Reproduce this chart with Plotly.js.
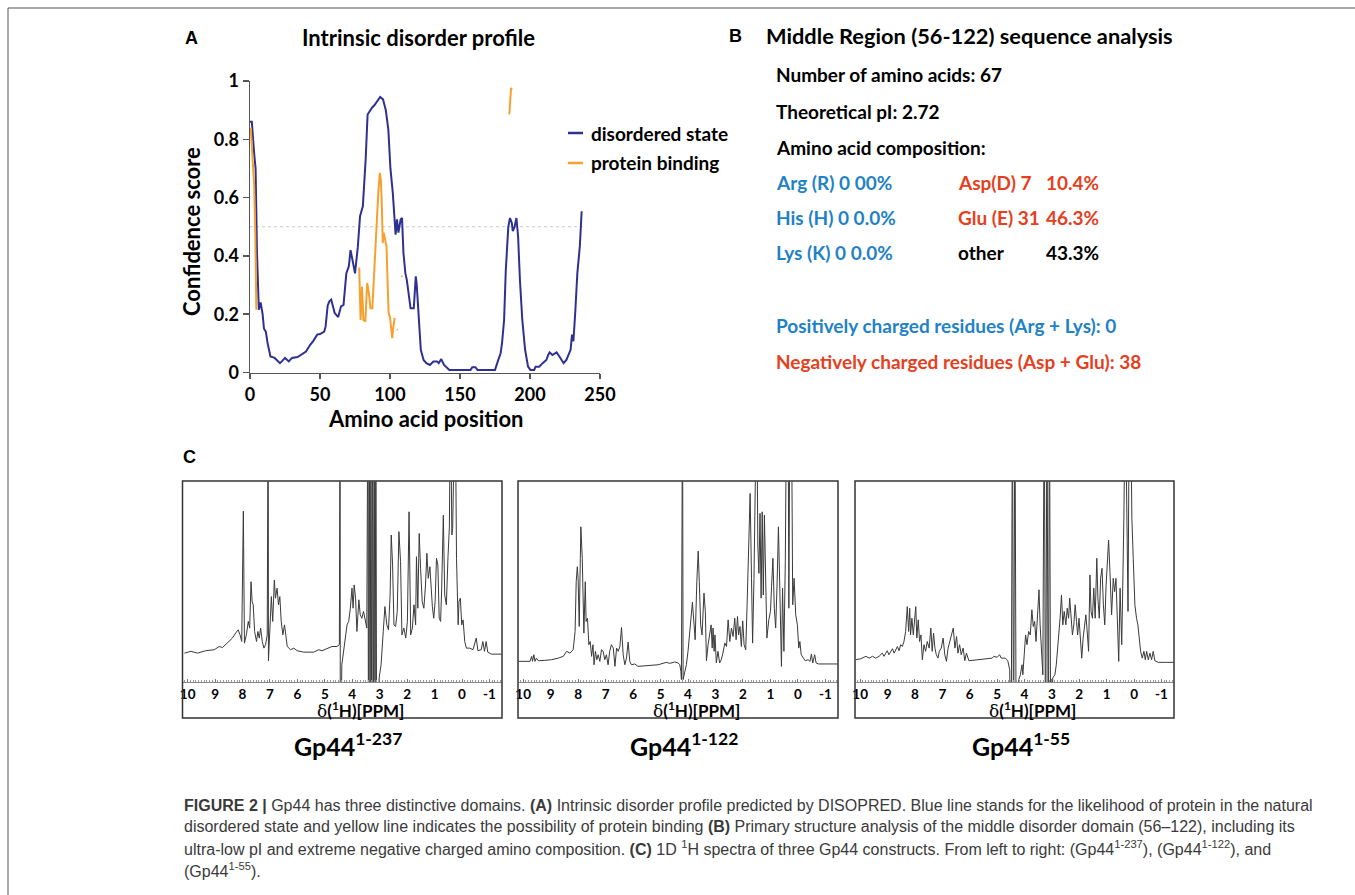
<!DOCTYPE html>
<html>
<head>
<meta charset="utf-8">
<script src="https://cdn.plot.ly/plotly-3.0.1.min.js"></script>
<style>
html,body{margin:0;padding:0;background:#fff;}
#chart{width:1355px;height:895px;}
</style>
</head>
<body>
<div id="chart"></div>
<script>
// ---------- Panel A : intrinsic disorder profile (DISOPRED) ----------
const disorderPos = [0, 1.3, 3, 4, 5, 6.3, 7.6, 9, 10, 11.3, 12.6, 14.6, 17.6, 20, 21.4, 22.7, 25, 27.7, 30, 34, 38, 40, 43, 45, 48, 50, 53, 54, 55.5, 56.7, 58, 59, 60.5, 63, 65, 66.8, 68.8, 70.6, 71.8, 73.6, 75, 77, 78.6, 80.6, 82.6, 84, 85.7, 87.4, 88.7, 90.7, 93, 95, 97, 98.8, 100.3, 102, 103.3, 104, 105, 106, 107.6, 108.6, 109.6, 111, 112, 113.4, 114.7, 117, 118.4, 119, 120.5, 122, 124, 126, 128.5, 131, 133.6, 134.8, 136.6, 138.6, 142.4, 146, 157.5, 158.8, 161, 162.5, 175, 177, 179, 180, 181.5, 182.7, 184.5, 185.7, 187, 187.7, 189, 190.3, 191.5, 192.8, 194.5, 196.5, 198.6, 200.3, 203, 204, 206.6, 209, 211.7, 213, 214, 216, 217.5, 219, 221, 223, 224, 226, 228, 229, 230, 231, 232.3, 233.8, 235.6, 236.9];
const disorderScore = [0.86, 0.86, 0.75, 0.70, 0.41, 0.215, 0.24, 0.20, 0.15, 0.14, 0.10, 0.055, 0.05, 0.038, 0.032, 0.038, 0.05, 0.038, 0.05, 0.053, 0.066, 0.072, 0.095, 0.107, 0.13, 0.132, 0.14, 0.158, 0.23, 0.244, 0.25, 0.227, 0.204, 0.19, 0.227, 0.232, 0.34, 0.364, 0.42, 0.376, 0.34, 0.43, 0.536, 0.57, 0.73, 0.885, 0.90, 0.91, 0.916, 0.93, 0.945, 0.937, 0.90, 0.834, 0.70, 0.616, 0.525, 0.473, 0.525, 0.48, 0.525, 0.53, 0.41, 0.34, 0.318, 0.26, 0.22, 0.22, 0.33, 0.307, 0.18, 0.078, 0.043, 0.032, 0.026, 0.038, 0.038, 0.032, 0.046, 0.026, 0.009, 0.009, 0.009, 0.018, 0.018, 0.009, 0.009, 0.038, 0.066, 0.10, 0.18, 0.35, 0.50, 0.53, 0.513, 0.485, 0.50, 0.53, 0.467, 0.318, 0.18, 0.078, 0.02, 0.009, 0.009, 0.02, 0.02, 0.032, 0.043, 0.06, 0.069, 0.06, 0.066, 0.069, 0.055, 0.038, 0.032, 0.043, 0.066, 0.078, 0.13, 0.107, 0.204, 0.34, 0.433, 0.553];
const bindingPos = [0.5, 2, 3, 3.8, 4.5, null, 78, 79, 80, 81, 82.4, 83.7, 85, 86, 87.4, 88.7, 90.2, 91.5, 92.7, 93.5, 94.2, 94.8, 95.5, 96.5, 97.5, 98.3, 99, 100, 100.8, 101.6, 102.3, 103.3, null, 104.8, 105.4, null, 108.2, 108.8, null, 185.2, 186.5, 187];
const bindingScore = [0.84, 0.73, 0.64, 0.47, 0.215, null, 0.36, 0.18, 0.295, 0.18, 0.175, 0.307, 0.27, 0.22, 0.22, 0.353, 0.49, 0.605, 0.685, 0.66, 0.57, 0.444, 0.48, 0.456, 0.433, 0.307, 0.204, 0.19, 0.158, 0.118, 0.152, 0.187, null, 0.148, 0.146, null, 0.332, 0.328, null, 0.885, 0.977, 0.97];
const xTicksA = [0, 50, 100, 150, 200, 250];
const yTicksA = [0, 0.2, 0.4, 0.6, 0.8, 1];
const yTickTextA = ['0', '0.2', '0.4', '0.6', '0.8', '1'];
const seriesNames = ['disordered state', 'protein binding'];

// ---------- Panel C : 1D 1H spectra (ppm, relative intensity) ----------
const ppmTicks = [10, 9, 8, 7, 6, 5, 4, 3, 2, 1, 0, -1];
const constructNames = ['1-237', '1-122', '1-55'];

const ppm1 = [10.12, 9.88, 9.64, 9.34, 9.03, 8.85, 8.73, 8.61, 8.49, 8.37, 8.25, 8.16, 8.09, 8.03, 7.97, 7.93, 7.86, 7.79, 7.74, 7.69, 7.65, 7.61, 7.56, 7.49, 7.44, 7.39, 7.34, 7.28, 7.22, 7.16, 7.10, 7.065, 7.055, 7.00, 6.95, 6.90, 6.84, 6.80, 6.74, 6.69, 6.64, 6.59, 6.53, 6.47, 6.42, 6.37, 6.25, 6.13, 6.01, 5.77, 5.41, 5.22, 5.10, 4.92, 4.74, 4.56, 4.47, 4.445, 4.435, 4.38, 4.32, 4.19, 4.13, 4.07, 4.01, 3.97, 3.93, 3.88, 3.83, 3.76, 3.71, 3.65, 3.59, 3.53, 3.47, 3.43, 3.41, 3.38, 3.35, 3.32, 3.29, 3.26, 3.23, 3.20, 3.17, 3.14, 3.11, 3.02, 2.95, 2.87, 2.81, 2.74, 2.68, 2.62, 2.58, 2.53, 2.48, 2.42, 2.36, 2.30, 2.24, 2.19, 2.12, 2.05, 1.99, 1.93, 1.87, 1.81, 1.75, 1.69, 1.66, 1.61, 1.56, 1.51, 1.45, 1.39, 1.33, 1.28, 1.23, 1.17, 1.12, 1.08, 1.03, 0.98, 0.93, 0.88, 0.83, 0.78, 0.74, 0.68, 0.63, 0.57, 0.51, 0.46, 0.42, 0.37, 0.34, 0.29, 0.25, 0.20, 0.14, 0.11, 0.06, 0.01, -0.04, -0.10, -0.16, -0.28, -0.40, -0.52, -0.58, -0.70, -0.76, -0.82, -0.88, -0.94, -1.07, -1.25, -1.55];
const int1 = [0.144, 0.153, 0.144, 0.156, 0.161, 0.177, 0.172, 0.189, 0.202, 0.219, 0.244, 0.26, 0.235, 0.202, 0.852, 0.194, 0.235, 0.302, 0.269, 0.50, 0.401, 0.385, 0.252, 0.202, 0.252, 0.219, 0.269, 0.202, 0.169, 0.186, 0.235, 1.5, 0.106, 0.285, 0.426, 0.302, 0.509, 0.418, 0.468, 0.385, 0.426, 0.302, 0.235, 0.285, 0.219, 0.177, 0.161, 0.169, 0.156, 0.149, 0.149, 0.161, 0.156, 0.166, 0.177, 0.177, 0.186, 1.5, -0.5, 0.086, 0.153, 0.285, 0.302, 0.368, 0.468, 0.368, 0.484, 0.418, 0.252, 0.410, 0.335, 0.318, 0.352, 0.302, 0.269, 1.5, -0.5, 1.5, -0.5, 1.5, -0.5, 1.5, -0.5, 1.5, -0.5, 1.5, -0.5, 0.02, 0.086, 0.252, 0.376, 0.285, 0.26, 0.434, 0.733, 0.584, 0.285, 0.277, 0.352, 0.75, 0.60, 0.235, 0.269, 0.219, 0.302, 0.849, 0.235, 0.269, 0.385, 0.285, 0.625, 0.368, 0.741, 0.567, 0.401, 0.368, 0.484, 0.642, 0.517, 0.575, 0.451, 0.376, 0.318, 0.401, 0.617, 0.584, 0.318, 0.302, 0.468, 0.832, 0.434, 0.385, 0.625, 0.774, 1.5, 0.733, 0.766, 1.5, 1.5, 0.617, 0.285, 0.401, 0.418, 0.285, 0.31, 0.202, 0.169, 0.169, 0.161, 0.219, 0.156, 0.161, 0.202, 0.153, 0.202, 0.149, 0.139, 0.139, 0.139];

const ppm2 = [10.18, 9.75, 9.69, 9.66, 9.61, 9.57, 9.52, 9.45, 9.21, 8.97, 8.72, 8.54, 8.42, 8.30, 8.18, 8.14, 8.11, 8.07, 8.03, 8.00, 7.96, 7.92, 7.90, 7.85, 7.82, 7.79, 7.74, 7.71, 7.66, 7.61, 7.56, 7.51, 7.46, 7.42, 7.37, 7.32, 7.27, 7.21, 7.15, 7.09, 7.03, 6.97, 6.91, 6.85, 6.79, 6.72, 6.66, 6.60, 6.54, 6.48, 6.42, 6.36, 6.30, 6.24, 6.18, 6.12, 6.06, 5.94, 5.82, 5.45, 5.09, 4.79, 4.66, 4.48, 4.36, 4.30, 4.26, 4.24, 4.20, 4.18, 4.12, 4.06, 4.00, 3.91, 3.84, 3.78, 3.74, 3.68, 3.63, 3.59, 3.54, 3.49, 3.42, 3.37, 3.33, 3.27, 3.21, 3.16, 3.12, 3.09, 3.05, 3.02, 2.97, 2.91, 2.85, 2.79, 2.73, 2.66, 2.60, 2.54, 2.48, 2.42, 2.36, 2.30, 2.25, 2.20, 2.16, 2.11, 2.06, 2.01, 1.96, 1.90, 1.85, 1.79, 1.74, 1.69, 1.65, 1.60, 1.55, 1.50, 1.46, 1.42, 1.38, 1.34, 1.30, 1.26, 1.22, 1.17, 1.13, 1.06, 1.00, 0.96, 0.91, 0.86, 0.81, 0.76, 0.71, 0.66, 0.60, 0.56, 0.51, 0.46, 0.41, 0.36, 0.33, 0.29, 0.24, 0.19, 0.14, 0.08, 0.02, -0.03, -0.07, -0.12, -0.20, -0.27, -0.37, -0.44, -0.49, -0.54, -0.61, -0.66, -0.75, -1.09, -1.52];
const int2 = [0.103, 0.103, 0.128, 0.103, 0.136, 0.103, 0.119, 0.106, 0.108, 0.111, 0.119, 0.128, 0.153, 0.144, 0.161, 0.211, 0.252, 0.50, 0.575, 0.517, 0.277, 0.617, 0.774, 0.617, 0.468, 0.244, 0.50, 0.302, 0.318, 0.186, 0.202, 0.128, 0.186, 0.086, 0.153, 0.111, 0.136, 0.103, 0.161, 0.153, 0.111, 0.136, 0.086, 0.153, 0.186, 0.169, 0.078, 0.169, 0.153, 0.177, 0.272, 0.136, 0.086, 0.119, 0.199, 0.103, 0.086, 0.090, 0.078, 0.081, 0.086, 0.098, 0.093, 0.10, 0.095, 0.086, 0.053, 0.012, 1.5, 0.012, 0.053, 0.086, 0.153, 0.318, 0.398, 0.285, 0.211, 0.50, 0.653, 0.50, 0.285, 0.235, 0.443, 0.352, 0.106, 0.186, 0.252, 0.285, 0.169, 0.269, 0.153, 0.235, 0.095, 0.153, 0.095, 0.111, 0.144, 0.194, 0.177, 0.31, 0.202, 0.269, 0.227, 0.318, 0.211, 0.327, 0.235, 0.277, 0.177, 0.305, 0.186, 0.161, 0.385, 0.733, 0.94, 0.517, 0.194, 0.517, 1.5, 1.5, 0.683, 0.542, 0.841, 0.418, 0.849, 0.434, 0.832, 0.517, 0.219, 0.31, 0.352, 0.476, 0.617, 0.368, 0.269, 0.484, 0.774, 0.468, 0.078, 0.468, 0.153, 0.60, 1.5, 1.5, 0.368, 1.5, 1.5, 0.385, 0.517, 0.335, 0.285, 0.169, 0.202, 0.136, 0.119, 0.106, 0.111, 0.103, 0.139, 0.095, 0.136, 0.095, 0.090, 0.090, 0.090];

const ppm3 = [10.16, 9.98, 9.79, 9.67, 9.55, 9.43, 9.31, 9.19, 9.13, 9.01, 8.95, 8.82, 8.76, 8.64, 8.58, 8.52, 8.46, 8.40, 8.34, 8.28, 8.23, 8.19, 8.16, 8.11, 8.06, 8.01, 7.97, 7.93, 7.88, 7.83, 7.78, 7.73, 7.67, 7.61, 7.55, 7.48, 7.42, 7.37, 7.32, 7.27, 7.22, 7.16, 7.11, 7.04, 6.97, 6.91, 6.85, 6.79, 6.73, 6.66, 6.60, 6.54, 6.48, 6.43, 6.37, 6.31, 6.24, 6.18, 6.12, 6.03, 5.73, 5.37, 5.18, 5.12, 5.00, 4.91, 4.85, 4.70, 4.61, 4.54, 4.49, 4.44, 4.40, 4.35, 4.30, 4.21, 4.15, 4.09, 4.06, 4.01, 3.96, 3.91, 3.85, 3.79, 3.73, 3.68, 3.63, 3.58, 3.54, 3.47, 3.43, 3.38, 3.33, 3.28, 3.23, 3.18, 3.13, 3.09, 3.04, 2.97, 2.89, 2.84, 2.80, 2.75, 2.70, 2.65, 2.60, 2.55, 2.49, 2.44, 2.39, 2.35, 2.30, 2.25, 2.20, 2.15, 2.10, 2.06, 2.01, 1.96, 1.91, 1.86, 1.81, 1.76, 1.72, 1.66, 1.61, 1.57, 1.52, 1.47, 1.42, 1.36, 1.32, 1.27, 1.22, 1.17, 1.12, 1.07, 1.02, 0.98, 0.93, 0.88, 0.82, 0.76, 0.71, 0.66, 0.61, 0.56, 0.51, 0.45, 0.42, 0.37, 0.32, 0.27, 0.22, 0.17, 0.13, 0.08, 0.03, -0.03, -0.09, -0.14, -0.19, -0.24, -0.30, -0.36, -0.41, -0.46, -0.52, -0.58, -0.64, -0.70, -0.76, -0.88, -1.18, -1.49];
const int3 = [0.111, 0.116, 0.128, 0.119, 0.128, 0.119, 0.128, 0.144, 0.128, 0.156, 0.136, 0.166, 0.144, 0.177, 0.156, 0.186, 0.177, 0.202, 0.252, 0.376, 0.252, 0.368, 0.235, 0.318, 0.235, 0.302, 0.376, 0.219, 0.31, 0.202, 0.235, 0.111, 0.186, 0.153, 0.202, 0.169, 0.269, 0.153, 0.244, 0.169, 0.136, 0.119, 0.153, 0.169, 0.219, 0.136, 0.103, 0.169, 0.202, 0.227, 0.269, 0.169, 0.227, 0.144, 0.186, 0.136, 0.169, 0.106, 0.144, 0.106, 0.111, 0.116, 0.119, 0.128, 0.123, 0.136, 0.119, 0.119, 0.106, 0.061, -0.5, 1.5, -0.5, 1.5, -0.5, 0.012, 0.036, 0.086, 0.036, 0.136, 0.235, 0.186, 0.252, 0.235, 0.36, 0.277, 0.302, 0.202, 0.302, 0.46, 0.285, 0.136, 0.036, 1.5, -0.5, 1.5, -0.5, 1.5, -0.5, 0.02, 0.036, 0.086, 0.153, 0.219, 0.318, 0.434, 0.285, 0.352, 0.285, 0.368, 0.318, 0.418, 0.335, 0.235, 0.285, 0.385, 0.302, 0.235, 0.318, 0.235, 0.119, 0.219, 0.285, 0.335, 0.269, 0.153, 0.534, 0.352, 0.318, 0.468, 0.318, 0.617, 0.418, 0.318, 0.517, 0.567, 0.385, 0.285, 0.484, 0.60, 0.708, 0.551, 0.335, 0.517, 0.451, 0.517, 0.335, 0.103, 0.468, 0.186, 0.418, 0.832, 1.5, 0.766, 0.352, 1.5, 1.5, 0.816, 0.617, 0.385, 0.318, 0.285, 0.219, 0.153, 0.119, 0.153, 0.111, 0.153, 0.111, 0.144, 0.111, 0.153, 0.106, 0.098, 0.098, 0.098];

const spectraPpm = [ppm1, ppm2, ppm3];
const spectraInt = [int1, int2, int3];

// ---------- Panel B text ----------
const seqTitle = 'Middle Region (56-122) sequence analysis';
const seqFacts = ['Number of amino acids: 67', 'Theoretical pI: 2.72', 'Amino acid composition:'];
const basicRes = ['Arg (R) 0 00%', 'His (H) 0 0.0%', 'Lys (K) 0 0.0%'];
const acidRes = ['Asp(D) 7', 'Glu (E) 31', 'other'];
const acidPct = ['10.4%', '46.3%', '43.3%'];
const chargeLines = ['Positively charged residues (Arg + Lys): 0', 'Negatively charged residues (Asp + Glu): 38'];

const captionLines = [
  '<b>FIGURE 2 |</b> Gp44 has three distinctive domains. <b>(A)</b> Intrinsic disorder profile predicted by DISOPRED. Blue line stands for the likelihood of protein in the natural',
  'disordered state and yellow line indicates the possibility of protein binding <b>(B)</b> Primary structure analysis of the middle disorder domain (56–122), including its',
  'ultra-low pI and extreme negative charged amino composition. <b>(C)</b> 1D <sup>1</sup>H spectra of three Gp44 constructs. From left to right: (Gp44<sup>1-237</sup>), (Gp44<sup>1-122</sup>), and',
  '(Gp44<sup>1-55</sup>).'
];

// ---------- layout helpers (pixel -> paper) ----------
const W = 1355, H = 895;
const X = p => p / W;
const Y = p => 1 - p / H;
const BLUE = '#2e3192', ORANGE = '#f7a030';
const TXT_BLUE = '#1f82c6', TXT_RED = '#e5401d';
const LATO = 'Lato, "Noto Sans", sans-serif';
const ARIAL = '"Liberation Sans", Arial, sans-serif';

const traces = [
  {x: disorderPos, y: disorderScore, xaxis: 'x', yaxis: 'y', mode: 'lines', name: seriesNames[0],
   line: {color: BLUE, width: 2}, showlegend: false},
  {x: bindingPos, y: bindingScore, xaxis: 'x', yaxis: 'y', mode: 'lines', name: seriesNames[1],
   line: {color: ORANGE, width: 2}, connectgaps: false, showlegend: false}
];

const boxes = [[182.5, 502], [518, 838], [855, 1174]];
const boxTop = 481, boxBottom = 718, specAxisY = 682;

spectraPpm.forEach((p, i) => {
  const n = i + 2;
  traces.push({x: p, y: spectraInt[i], xaxis: 'x' + n, yaxis: 'y' + n, mode: 'lines',
    line: {color: '#3a3a3a', width: 1}, showlegend: false, name: 'Gp44 ' + constructNames[i]});
});

const layout = {
  width: W, height: H,
  margin: {l: 0, r: 0, t: 0, b: 0},
  paper_bgcolor: '#fff', plot_bgcolor: 'rgba(0,0,0,0)',
  font: {family: LATO, color: '#000'},
  showlegend: false,
  xaxis: {domain: [X(250), X(600)], range: [0, 250], anchor: 'y', showgrid: false, zeroline: false,
    showline: true, linecolor: '#555', linewidth: 1.5, ticks: 'outside', ticklen: 5, tickwidth: 1.5, tickcolor: '#555',
    tickvals: xTicksA, tickfont: {family: LATO, size: 18, weight: 'bold', color: '#000'}, automargin: false},
  yaxis: {domain: [Y(372.5), Y(81)], range: [0, 1], anchor: 'x', showgrid: false, zeroline: false,
    showline: true, linecolor: '#555', linewidth: 1.5, ticks: 'outside', ticklen: 6, tickwidth: 1.5, tickcolor: '#555',
    tickvals: yTicksA, ticktext: yTickTextA, tickfont: {family: LATO, size: 18, weight: 'bold', color: '#000'}, automargin: false},
  shapes: [
    {type: 'line', xref: 'paper', yref: 'paper', x0: X(8), x1: X(8), y0: Y(8), y1: Y(905), line: {color: '#555', width: 1}},
    {type: 'line', xref: 'paper', yref: 'paper', x0: X(8), x1: X(1365), y0: Y(8), y1: Y(8), line: {color: '#555', width: 1}},
    {type: 'line', xref: 'x', yref: 'y', x0: 0, x1: 240, y0: 0.5, y1: 0.5, layer: 'below', line: {color: '#c8c8c8', width: 1, dash: 'dot'}},
    {type: 'line', xref: 'paper', yref: 'paper', x0: X(568), x1: X(583), y0: Y(133), y1: Y(133), line: {color: BLUE, width: 2.5}},
    {type: 'line', xref: 'paper', yref: 'paper', x0: X(568), x1: X(583), y0: Y(163), y1: Y(163), line: {color: ORANGE, width: 2.5}}
  ],
  annotations: []
};

boxes.forEach((b, i) => {
  const n = i + 2;
  layout['xaxis' + n] = {domain: [X(b[0] + 0.5), X(b[1] - 0.5)], range: [10.17, -1.44], anchor: 'y' + n,
    showgrid: false, zeroline: false, showline: true, linecolor: '#8a8a8a', linewidth: 1,
    ticks: 'inside', ticklen: 3, tickcolor: '#777', tickvals: ppmTicks, ticktext: ppmTicks.map(String),
    minor: {dtick: 0.1, ticks: 'inside', ticklen: 2, tickcolor: '#999'},
    tickfont: {family: LATO, size: 13.5, weight: 'bold', color: '#000'}, automargin: false};
  layout['yaxis' + n] = {domain: [Y(specAxisY), Y(boxTop + 0.5)], range: [0, 1], anchor: 'x' + n, visible: false};
  layout.shapes.push({type: 'rect', xref: 'paper', yref: 'paper', x0: X(b[0]), x1: X(b[1]), y0: Y(boxBottom), y1: Y(boxTop),
    line: {color: '#333', width: 1.5}, fillcolor: 'rgba(0,0,0,0)'});
  const cx = (b[0] + b[1]) / 2;
  layout.annotations.push({xref: 'paper', yref: 'paper', x: X(cx + 18), y: Y(709.5), xanchor: 'center', yanchor: 'middle', showarrow: false,
    text: '<span style="font-family:\'DejaVu Serif\',serif">δ</span><b>(<sup>1</sup>H)[PPM]</b>', font: {family: LATO, size: 17, color: '#000'}});
  layout.annotations.push({xref: 'paper', yref: 'paper', x: X(cx + 6), y: Y(744), xanchor: 'center', yanchor: 'middle', showarrow: false,
    text: '<b>Gp44<sup>' + constructNames[i] + '</sup></b>', font: {family: LATO, size: 25, color: '#000'}});
});

function ann(text, px, py, size, color, anchor, extra) {
  const a = {xref: 'paper', yref: 'paper', x: X(px), y: Y(py), xanchor: anchor || 'left', yanchor: 'middle',
    showarrow: false, text: text, font: {family: LATO, size: size, color: color || '#000'}};
  return Object.assign(a, extra || {});
}
const A = layout.annotations;
// panel labels
A.push(ann('<b>A</b>', 191, 38, 18, '#000', 'center', {font: {family: ARIAL, size: 18, color: '#000'}}));
A.push(ann('<b>B</b>', 735, 36, 18, '#000', 'center', {font: {family: ARIAL, size: 18, color: '#000'}}));
A.push(ann('<b>C</b>', 190, 457, 18, '#000', 'center', {font: {family: ARIAL, size: 18, color: '#000'}}));
// panel A titles / legend
A.push(ann('<b>Intrinsic disorder profile</b>', 418, 38, 22, '#000', 'center'));
A.push(ann('<b>Amino acid position</b>', 425, 418, 22, '#000', 'center'));
A.push(ann('<b>Confidence score</b>', 192, 232, 22, '#000', 'center', {textangle: -90}));
A.push(ann('<b>' + seriesNames[0] + '</b>', 589, 133, 19));
A.push(ann('<b>' + seriesNames[1] + '</b>', 589, 163, 19));
// panel B
A.push(ann('<b>' + seqTitle + '</b>', 764, 36, 21.8));
seqFacts.forEach((t, i) => A.push(ann('<b>' + t + '</b>', 774, 75 + 36 * i, 19)));
[183, 218, 253].forEach((py, i) => {
  A.push(ann('<b>' + basicRes[i] + '</b>', 774, py, 19, TXT_BLUE));
  A.push(ann('<b>' + acidRes[i] + '</b>', 956, py, 19, i < 2 ? TXT_RED : '#000'));
  A.push(ann('<b>' + acidPct[i] + '</b>', 1101, py, 19, i < 2 ? TXT_RED : '#000', 'right'));
});
A.push(ann('<b>' + chargeLines[0] + '</b>', 774, 325, 19, TXT_BLUE));
A.push(ann('<b>' + chargeLines[1] + '</b>', 774, 361, 19, TXT_RED));
// caption
[805, 826.5, 848, 869.5].forEach((py, i) => {
  A.push(ann(captionLines[i], 182, py, 16, '#3a3a3a', 'left', {font: {family: ARIAL, size: 16, color: '#3a3a3a'}}));
});

Plotly.newPlot('chart', traces, layout, {staticPlot: true, displayModeBar: false});
</script>
</body>
</html>
